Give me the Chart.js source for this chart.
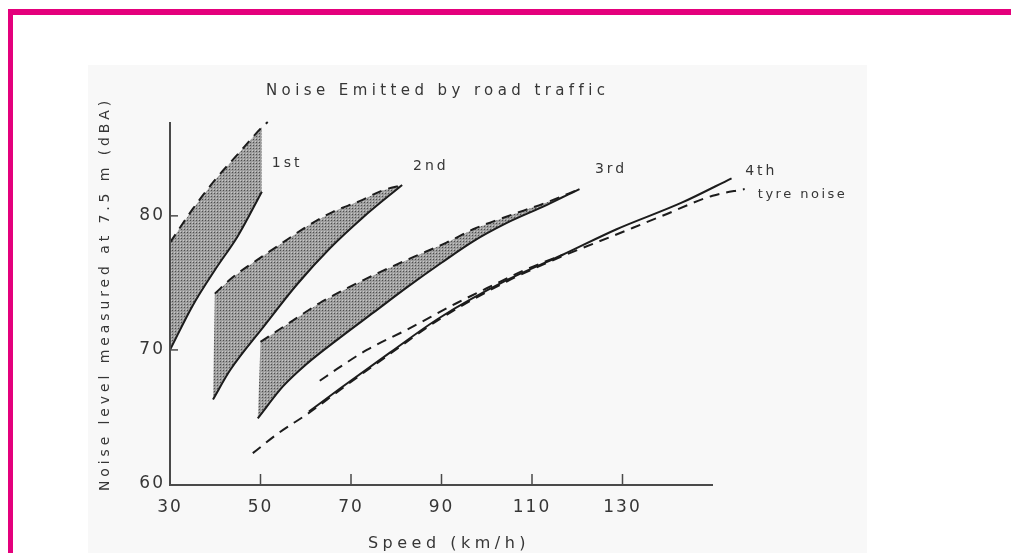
<!DOCTYPE html>
<html>
<head>
<meta charset="utf-8">
<title>Noise Emitted by road traffic</title>
<script src="https://cdn.jsdelivr.net/npm/chart.js@4.4.1/dist/chart.umd.min.js"></script>
<style>
  html, body { margin: 0; padding: 0; background: #fff; overflow: hidden; }
  #frame { position: absolute; left: 8px; top: 9px; width: 1100px; height: 700px;
           border-top: 6px solid #e4007c; border-left: 5px solid #e4007c; }
  #sheet { position: absolute; left: 88px; top: 65px; width: 779px; height: 488px; background: #f8f8f8; }
  #wrap { position: absolute; left: 0; top: 0; width: 1011px; height: 553px; }
</style>
</head>
<body>
<div id="frame"></div>
<div id="sheet"></div>
<div id="wrap"><canvas id="chartNoise"></canvas></div>
<script>
/* noise level (dBA at 7.5 m) against speed (km/h), one band per gear */
const xTicks = [30, 50, 70, 90, 110, 130];
const yTicks = [60, 70, 80];

// [speed, level] pairs
const gear1Upper = [[30, 78.0], [35, 80.5], [40, 82.7], [45, 84.6], [50.3, 86.6], [51.6, 87.0]];
const gear1Lower = [[30, 70.0], [35, 73.3], [40, 76.0], [45, 78.5], [50.3, 81.8]];
const gear2Upper = [[39.9, 74.2], [43.8, 75.4], [49.2, 76.7], [54.9, 78.0], [60.2, 79.2], [66, 80.3], [71.9, 81.1], [77, 81.9], [81.3, 82.3]];
const gear2Lower = [[39.5, 66.3], [43.3, 68.5], [50.6, 71.7], [58.1, 74.9], [65.4, 77.6], [72.7, 79.9], [81.3, 82.3]];
const gear3Upper = [[50, 70.6], [57.2, 72.2], [63.1, 73.5], [69.7, 74.7], [76.4, 75.8], [83.6, 76.9], [91.1, 78.0], [97, 79.0], [104, 79.9], [113.2, 81.0], [120.5, 82.0]];
const gear3Lower = [[49.4, 64.9], [55, 67.3], [60, 68.9], [67.5, 70.9], [75, 72.8], [82.5, 74.7], [90, 76.5], [97, 78.1], [104, 79.4], [113.2, 80.8], [120.5, 82.0]];
const gear4Upper = [[63.1, 67.7], [67, 68.6], [73.5, 70.0], [82.3, 71.5], [93.4, 73.5], [100, 74.6], [108, 75.9], [116.8, 77.1]];
const gear4Lower = [[60.7, 65.4], [67.5, 67.1], [78.6, 69.8], [89.6, 72.4], [104.4, 75.2], [116.8, 77.1], [128.7, 79.0], [143.2, 81.0], [154.1, 82.8]];
const tyreNoise = [[48.3, 62.3], [54, 63.8], [60.7, 65.3], [67.5, 67.0], [78.6, 69.7], [89.6, 72.3], [104.4, 75.1], [116.8, 77.0], [127.1, 78.4], [138.8, 80.0], [149.9, 81.5], [157, 82.0]];

// where each shaded band closes on the right
const bandEnds = [50.3, 81.3, 120.5];

const curveLabels = ['1st', '2nd', '3rd', '4th', 'tyre noise'];
const labelAnchors = [[52.5, 83.9], [83.7, 83.7], [123.9, 83.5], [157.1, 83.3], [159.9, 81.6]];

const ink = '#1c1c1c';
const textInk = '#363636';
const fontFamily = '"DejaVu Sans", sans-serif';

// halftone grey used inside the gear bands
function stipple() {
    var c = document.createElement('canvas');
    c.width = 3; c.height = 3;
    var g = c.getContext('2d');
    g.fillStyle = '#9d9d9d';
    g.fillRect(0, 0, 3, 3);
    g.fillStyle = '#4e4e4e';
    g.fillRect(1, 1, 1, 1);
    g.fillStyle = '#c8c8c8';
    g.fillRect(0, 0, 1, 1);
    return g.createPattern(c, 'repeat');
}
const dots = stipple();

const toPts = arr => arr.map(([x, y]) => ({ x, y }));

function band(upper, lower, xEnd) {
    var top = upper.filter(p => p[0] <= xEnd);
    var bottom = lower.filter(p => p[0] <= xEnd).reverse();
    return toPts(top.concat(bottom));
}
function curve(label, arr, dashed) {
    return {
        label: label,
        data: toPts(arr),
        borderColor: ink,
        borderWidth: 2,
        borderDash: dashed ? [10, 7] : [],
        pointRadius: 0,
        fill: false,
        cubicInterpolationMode: 'monotone',
        clip: false,
        order: 1
    };
}
function shade(label, pts) {
    return {
        label: label,
        data: pts,
        borderWidth: 0,
        borderColor: 'rgba(0,0,0,0)',
        backgroundColor: dots,
        pointRadius: 0,
        fill: 'shape',
        tension: 0,
        order: 2
    };
}

var datasets = [
    shade('1st band', band(gear1Upper, gear1Lower, bandEnds[0])),
    shade('2nd band', band(gear2Upper, gear2Lower, bandEnds[1])),
    shade('3rd band', band(gear3Upper, gear3Lower, bandEnds[2])),
    curve('1st upper', gear1Upper, true),
    curve('1st lower', gear1Lower, false),
    curve('2nd upper', gear2Upper, true),
    curve('2nd lower', gear2Lower, false),
    curve('3rd upper', gear3Upper, true),
    curve('3rd lower', gear3Lower, false),
    curve('4th upper', gear4Upper, true),
    curve('4th lower', gear4Lower, false),
    curve('tyre noise', tyreNoise, true)
];

// axes drawn by hand: plain lines with inward ticks
const plainAxes = {
    id: 'plainAxes',
    beforeDraw(chart) {
        chart.ctx.letterSpacing = '2px';
    },
    afterDraw(chart) {
        var ctx = chart.ctx, a = chart.chartArea, sx = chart.scales.x, sy = chart.scales.y;
        ctx.save();
        ctx.strokeStyle = '#4a4a4a';
        ctx.lineWidth = 2;
        ctx.beginPath();
        ctx.moveTo(a.left, a.top);
        ctx.lineTo(a.left, a.bottom + 1);
        ctx.lineTo(a.right, a.bottom + 1);
        ctx.stroke();
        ctx.lineWidth = 1.5;
        xTicks.slice(1).forEach(function (v) {
            var px = sx.getPixelForValue(v);
            ctx.beginPath();
            ctx.moveTo(px, a.bottom);
            ctx.lineTo(px, a.bottom - 10);
            ctx.stroke();
        });
        yTicks.slice(1).forEach(function (v) {
            var py = sy.getPixelForValue(v);
            ctx.beginPath();
            ctx.moveTo(a.left, py);
            ctx.lineTo(a.left + 8, py);
            ctx.stroke();
        });

        ctx.fillStyle = textInk;
        ctx.textBaseline = 'middle';
        ctx.textAlign = 'left';
        ctx.letterSpacing = '4.4px';
        ctx.font = '15px ' + fontFamily;
        ctx.fillText('Noise Emitted by road traffic', a.left + 96, 91);

        ctx.letterSpacing = '3px';
        ctx.font = '14px ' + fontFamily;
        curveLabels.forEach(function (t, i) {
            if (t === 'tyre noise') {
                ctx.font = '13px ' + fontFamily;
                ctx.letterSpacing = '2.5px';
            }
            ctx.fillText(t, sx.getPixelForValue(labelAnchors[i][0]), sy.getPixelForValue(labelAnchors[i][1]));
        });

        ctx.textAlign = 'center';
        ctx.letterSpacing = '4.5px';
        ctx.font = '16px ' + fontFamily;
        ctx.fillText('Speed (km/h)', 449, 544);

        ctx.translate(105, 294);
        ctx.rotate(-Math.PI / 2);
        ctx.letterSpacing = '3.9px';
        ctx.font = '14px ' + fontFamily;
        ctx.fillText('Noise level measured at 7.5 m (dBA)', 0, 0);
        ctx.restore();
    }
};

var ctx = document.getElementById('chartNoise').getContext('2d');
var chartNoise = new Chart(ctx, {
    type: 'line',
    data: { datasets: datasets },
    options: {
        responsive: true,
        maintainAspectRatio: false,
        animation: false,
        layout: { padding: { left: 0, top: 122, right: 298, bottom: 0 } },
        plugins: {
            legend: { display: false },
            tooltip: { enabled: false }
        },
        scales: {
            x: {
                type: 'linear',
                min: 30,
                max: 150,
                grid: { display: false, drawTicks: false },
                border: { display: false },
                afterBuildTicks: s => { s.ticks = xTicks.map(v => ({ value: v })); },
                afterFit: s => { s.height = 69; },
                ticks: {
                    autoSkip: false,
                    maxRotation: 0,
                    padding: 13,
                    color: textInk,
                    font: { family: fontFamily, size: 17 }
                }
            },
            y: {
                type: 'linear',
                min: 60,
                max: 87,
                grid: { display: false, drawTicks: false },
                border: { display: false },
                afterBuildTicks: s => { s.ticks = yTicks.map(v => ({ value: v })); },
                afterFit: s => { s.width = 170; },
                ticks: {
                    padding: 5,
                    color: textInk,
                    font: { family: fontFamily, size: 17 }
                }
            }
        }
    },
    plugins: [plainAxes]
});
</script>
</body>
</html>
